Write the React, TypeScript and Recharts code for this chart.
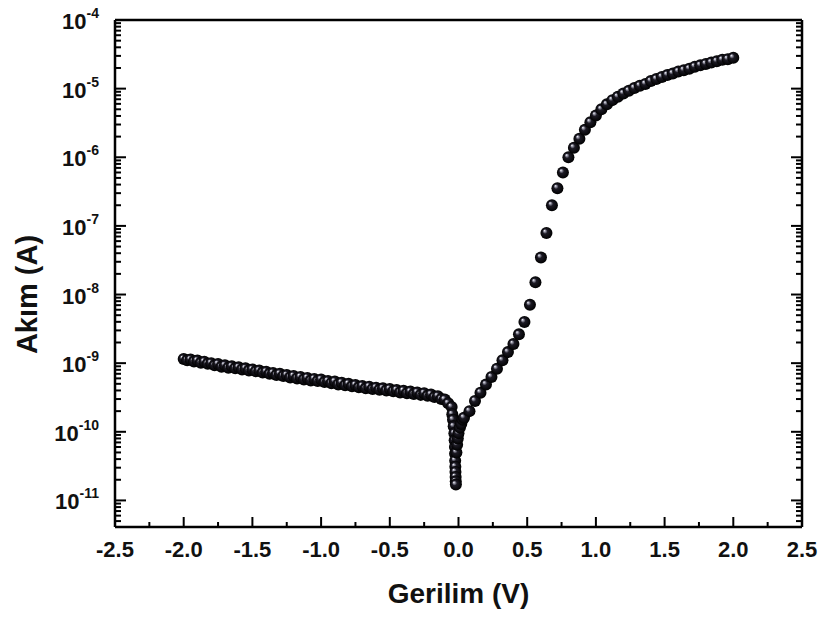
import React from 'react';
import { ScatterChart, Scatter, XAxis, YAxis } from 'recharts';

// reverse sweep, -2.0 V .. -0.05 V
const leftV = [
  -2.0, -1.975, -1.95, -1.925, -1.9, -1.875, -1.85, -1.825, -1.8, -1.775,
  -1.75, -1.725, -1.7, -1.675, -1.65, -1.625, -1.6, -1.575, -1.55, -1.525,
  -1.5, -1.475, -1.45, -1.425, -1.4, -1.375, -1.35, -1.325, -1.3, -1.275,
  -1.25, -1.225, -1.2, -1.175, -1.15, -1.125, -1.1, -1.075, -1.05, -1.025,
  -1.0, -0.975, -0.95, -0.925, -0.9, -0.875, -0.85, -0.825, -0.8, -0.775,
  -0.75, -0.725, -0.7, -0.675, -0.65, -0.625, -0.6, -0.575, -0.55, -0.525,
  -0.5, -0.475, -0.45, -0.425, -0.4, -0.375, -0.35, -0.325, -0.3, -0.275,
  -0.25, -0.225, -0.2, -0.175, -0.15, -0.125, -0.1, -0.075, -0.05,
];
const leftI = [
  1.15e-9, 1.1e-9, 1.13e-9, 1.06e-9, 1.09e-9, 1.01e-9, 1.05e-9, 0.98e-9, 1.0e-9, 9.3e-10,
  9.7e-10, 8.9e-10, 9.3e-10, 8.6e-10, 9.0e-10, 8.4e-10, 8.7e-10, 8.1e-10, 8.4e-10, 7.8e-10,
  8.1e-10, 7.6e-10, 7.8e-10, 7.3e-10, 7.5e-10, 7.0e-10, 7.2e-10, 6.7e-10, 7.0e-10, 6.5e-10,
  6.7e-10, 6.2e-10, 6.5e-10, 6.0e-10, 6.3e-10, 5.8e-10, 6.1e-10, 5.6e-10, 5.9e-10, 5.5e-10,
  5.8e-10, 5.3e-10, 5.5e-10, 5.1e-10, 5.4e-10, 4.9e-10, 5.2e-10, 4.75e-10, 5.0e-10, 4.6e-10,
  4.8e-10, 4.45e-10, 4.65e-10, 4.3e-10, 4.55e-10, 4.2e-10, 4.4e-10, 4.1e-10, 4.3e-10, 4.0e-10,
  4.2e-10, 3.9e-10, 4.05e-10, 3.75e-10, 3.95e-10, 3.65e-10, 3.85e-10, 3.55e-10, 3.75e-10, 3.45e-10,
  3.65e-10, 3.35e-10, 3.5e-10, 3.2e-10, 3.3e-10, 3.0e-10, 2.95e-10, 2.6e-10, 2.3e-10,
];

// fine steps around the current minimum
const stemV = [
  -0.045, -0.04, -0.035, -0.03, -0.028, -0.026, -0.025, -0.024, -0.023, -0.022,
  -0.021, -0.02, -0.019, -0.015, -0.01, -0.005, 0.0, 0.01, 0.02, 0.03,
];
const stemI = [
  1.8e-10, 1.5e-10, 1.2e-10, 9.5e-11, 7.5e-11, 6.0e-11, 4.8e-11, 3.8e-11, 3.1e-11, 2.6e-11,
  2.2e-11, 1.9e-11, 1.7e-11, 5.0e-11, 6.5e-11, 8.0e-11, 9.5e-11, 1.15e-10, 1.3e-10, 1.5e-10,
];

// forward bias, 0.04 V .. 2.0 V
const rightV = [
  0.04, 0.08, 0.12, 0.16, 0.2, 0.24, 0.28, 0.32, 0.36, 0.4,
  0.44, 0.48, 0.52, 0.56, 0.6, 0.64, 0.68, 0.72, 0.76, 0.8,
  0.84, 0.88, 0.92, 0.96, 1.0, 1.04, 1.08, 1.12, 1.16, 1.2,
  1.24, 1.28, 1.32, 1.36, 1.4, 1.44, 1.48, 1.52, 1.56, 1.6,
  1.64, 1.68, 1.72, 1.76, 1.8, 1.84, 1.88, 1.92, 1.96, 2.0,
];
const rightI = [
  1.6e-10, 2.0e-10, 2.82e-10, 3.72e-10, 4.9e-10, 6.3e-10, 8.3e-10, 1.1e-9, 1.45e-9, 1.9e-9,
  2.63e-9, 3.98e-9, 7.1e-9, 1.51e-8, 3.47e-8, 7.9e-8, 2.0e-7, 3.55e-7, 6.0e-7, 1.0e-6,
  1.38e-6, 1.86e-6, 2.51e-6, 3.24e-6, 4.07e-6, 5.0e-6, 5.9e-6, 6.8e-6, 7.6e-6, 8.5e-6,
  9.3e-6, 1.02e-5, 1.1e-5, 1.17e-5, 1.29e-5, 1.38e-5, 1.48e-5, 1.58e-5, 1.66e-5, 1.78e-5,
  1.86e-5, 1.95e-5, 2.09e-5, 2.19e-5, 2.29e-5, 2.4e-5, 2.51e-5, 2.63e-5, 2.69e-5, 2.82e-5,
];

const xMajorTicks = [-2.5, -2.0, -1.5, -1.0, -0.5, 0.0, 0.5, 1.0, 1.5, 2.0, 2.5];
const xMinorTicks = [-2.25, -1.75, -1.25, -0.75, -0.25, 0.25, 0.75, 1.25, 1.75, 2.25];
const yMajorTicks = [1e-11, 1e-10, 1e-9, 1e-8, 1e-7, 1e-6, 1e-5, 1e-4];
const yExponents = ['-11', '-10', '-9', '-8', '-7', '-6', '-5', '-4'];
const yDomain = [4.1e-12, 1e-4];

const yMinorTicks: number[] = [];
[1e-12, 1e-11, 1e-10, 1e-9, 1e-8, 1e-7, 1e-6, 1e-5].forEach((d) => {
  for (let m = 2; m <= 9; m++) {
    const v = m * d;
    if (v >= yDomain[0] && v < yDomain[1]) yMinorTicks.push(v);
  }
});

const xTicks = [...xMajorTicks, ...xMinorTicks].sort((a, b) => a - b);
const yTicks = [...yMajorTicks, ...yMinorTicks].sort((a, b) => a - b);

const toPoints = (vs: number[], is: number[]) => vs.map((v, k) => ({ v, i: is[k] }));
const leftData = toPoints(leftV, leftI);
const stemData = toPoints(stemV, stemI);
const rightData = toPoints(rightV, rightI);

const FONT = '"Liberation Sans", Arial, Helvetica, sans-serif';
const AXIS = { stroke: '#000', strokeWidth: 2.5 };

const majorIndex = (v: number) => yMajorTicks.findIndex((t) => Math.abs(t - v) / t < 1e-6);

const BottomTick = (props: any) => {
  const { x, y, payload } = props;
  const major = xMajorTicks.includes(payload.value);
  return (
    <g>
      <line x1={x} x2={x} y1={y} y2={y - (major ? 10 : 5)} stroke="#000" strokeWidth={2} />
      {major && (
        <text x={x} y={y + 30} textAnchor="middle" fontFamily={FONT} fontWeight="bold" fontSize={22} fill="#111">
          {payload.value.toFixed(1)}
        </text>
      )}
    </g>
  );
};

const LeftTick = (props: any) => {
  const { x, y, payload } = props;
  const k = majorIndex(payload.value);
  return (
    <g>
      <line x1={x} x2={x + (k >= 0 ? 11 : 6)} y1={y} y2={y} stroke="#000" strokeWidth={2} />
      {k >= 0 && (
        <text x={x - 16} y={y + 9} textAnchor="end" fontFamily={FONT} fontWeight="bold" fill="#111">
          <tspan fontSize={22}>10</tspan>
          <tspan fontSize={14} dy={-11}>{yExponents[k]}</tspan>
        </text>
      )}
    </g>
  );
};

const RightTick = (props: any) => {
  const { x, y, payload } = props;
  const k = majorIndex(payload.value);
  return <line x1={x} x2={x - (k >= 0 ? 11 : 6)} y1={y} y2={y} stroke="#000" strokeWidth={2} />;
};

const Ball = (props: any) => {
  const { cx, cy } = props;
  if (cx == null || cy == null) return null;
  return <circle cx={cx} cy={cy} r={6} fill="url(#ball)" />;
};

export default function App() {
  return (
    <div style={{ position: 'absolute', left: 0, top: 0, width: 822, height: 617, background: '#fff' }}>
      <svg width={0} height={0} style={{ position: 'absolute' }}>
        <defs>
          <radialGradient id="ball" cx="0.5" cy="0.5" r="0.5" fx="0.32" fy="0.3">
            <stop offset="0" stopColor="#ffffff" />
            <stop offset="0.15" stopColor="#a0a0b0" />
            <stop offset="0.4" stopColor="#1c1a24" />
            <stop offset="1" stopColor="#000000" />
          </radialGradient>
        </defs>
      </svg>
      <ScatterChart width={822} height={617} margin={{ top: 19, right: 18, bottom: 30, left: 25 }}>
        <XAxis
          dataKey="v"
          type="number"
          domain={[-2.5, 2.5]}
          ticks={xTicks}
          interval={0}
          tickSize={0}
          tickMargin={0}
          tickLine={false}
          axisLine={AXIS}
          tick={BottomTick}
          height={60}
          allowDataOverflow
          label={{
            content: (p: any) => (
              <text
                x={p.viewBox.x + p.viewBox.width / 2}
                y={p.viewBox.y + 76}
                textAnchor="middle"
                fontFamily={FONT}
                fontWeight="bold"
                fontSize={28}
                fill="#111"
              >
                Gerilim (V)
              </text>
            ),
          }}
        />
        <XAxis
          xAxisId="top"
          orientation="top"
          type="number"
          domain={[-2.5, 2.5]}
          tick={false}
          tickLine={false}
          axisLine={AXIS}
          height={1}
          allowDataOverflow
        />
        <YAxis
          dataKey="i"
          type="number"
          scale="log"
          domain={yDomain}
          ticks={yTicks}
          interval={0}
          tickSize={0}
          tickMargin={0}
          tickLine={false}
          axisLine={AXIS}
          tick={LeftTick}
          width={90}
          allowDataOverflow
          label={{
            content: (p: any) => {
              const cx = p.viewBox.x + 2;
              const cy = p.viewBox.y + p.viewBox.height / 2 + 21;
              return (
                <text
                  x={cx}
                  y={cy}
                  transform={`rotate(-90 ${cx} ${cy})`}
                  textAnchor="middle"
                  dominantBaseline="central"
                  fontFamily={FONT}
                  fontWeight="bold"
                  fontSize={29}
                  fill="#111"
                >
                  Akım (A)
                </text>
              );
            },
          }}
        />
        <YAxis
          yAxisId="right"
          orientation="right"
          type="number"
          scale="log"
          domain={yDomain}
          ticks={yTicks}
          interval={0}
          tickSize={0}
          tickMargin={0}
          tickLine={false}
          axisLine={AXIS}
          tick={RightTick}
          width={2}
          allowDataOverflow
        />
        <Scatter data={leftData} shape={Ball} isAnimationActive={false} />
        <Scatter data={stemData} shape={Ball} isAnimationActive={false} />
        <Scatter data={rightData} shape={Ball} isAnimationActive={false} />
      </ScatterChart>
    </div>
  );
}
